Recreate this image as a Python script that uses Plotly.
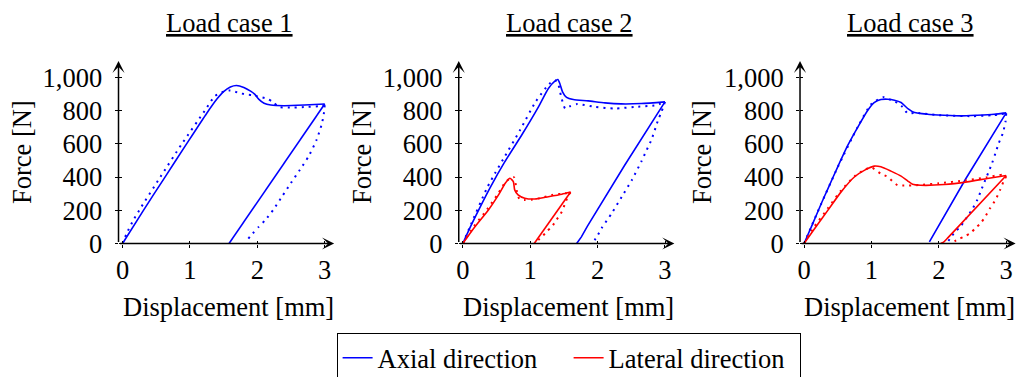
import plotly.graph_objects as go

FONT = "Liberation Serif"
BLUE = "#0000ff"
RED = "#ff0000"

# ---------------- data (displacement [mm], force [N]) ----------------
# Load case 1 - axial
lc1_ax_sim_load_x = [0, 0.31, 0.63, 0.95, 1.25, 1.4, 1.5, 1.6, 1.69, 1.8, 1.9, 1.96, 2.02, 2.1, 2.2, 2.4, 2.7, 3.0]
lc1_ax_sim_load_y = [0, 200, 400, 600, 785, 870, 915, 943, 952, 940, 918, 900, 870, 845, 834, 830, 834, 840]
lc1_ax_sim_unload_x = [3.0, 2.3, 1.58]
lc1_ax_sim_unload_y = [840, 425, 0]
lc1_ax_exp_load_x = [0, 0.06, 0.16, 0.27, 0.56, 0.88, 1.22, 1.37, 1.5, 1.6, 1.72, 1.83, 1.92, 2.03, 2.14, 2.23, 2.32, 2.53, 2.73, 2.92, 3.0]
lc1_ax_exp_load_y = [0, 60, 140, 215, 400, 600, 800, 888, 915, 922, 908, 898, 894, 884, 873, 853, 823, 819, 823, 827, 833]
lc1_ax_exp_unload_x = [3.0, 2.99, 2.96, 2.88, 2.76, 2.63, 2.5, 2.37, 2.24, 2.12, 2.02, 1.93, 1.86, 1.83]
lc1_ax_exp_unload_y = [833, 790, 725, 625, 524, 443, 365, 285, 205, 142, 100, 60, 25, 5]

# Load case 2 - axial
lc2_ax_sim_load_x = [0, 0.13, 0.27, 0.41, 0.62, 0.877, 1.123, 1.27, 1.37, 1.41, 1.44, 1.48, 1.54, 1.64, 1.86, 2.11, 2.35, 2.65, 3.0]
lc2_ax_sim_load_y = [0, 115, 230, 340, 490, 655, 823, 934, 980, 988, 964, 914, 880, 867, 859, 847, 841, 843, 853]
lc2_ax_sim_unload_x = [3.0, 2.4, 1.85, 1.76, 1.69]
lc2_ax_sim_unload_y = [853, 470, 105, 40, 0]
lc2_ax_exp_load_x = [0, 0.1, 0.36, 0.48, 0.6, 0.85, 1.08, 1.28, 1.37, 1.42, 1.46, 1.52, 1.59, 1.7, 1.96, 2.26, 2.55, 2.87, 3.0]
lc2_ax_exp_load_y = [0, 95, 335, 424, 508, 683, 853, 960, 984, 954, 884, 813, 827, 840, 823, 813, 823, 833, 853]
lc2_ax_exp_unload_x = [3.0, 2.95, 2.90, 2.80, 2.73, 2.65, 2.51, 2.36, 2.21, 2.06, 1.99, 1.93]
lc2_ax_exp_unload_y = [853, 795, 745, 625, 564, 494, 383, 282, 182, 92, 41, 5]

# Load case 2 - lateral
lc2_lat_sim_load_x = [0, 0.18, 0.38, 0.53, 0.63, 0.70, 0.75, 0.77, 0.82, 0.92, 1.07, 1.27, 1.47, 1.6]
lc2_lat_sim_load_y = [0, 101, 202, 293, 363, 393, 373, 323, 293, 273, 268, 282, 297, 310]
lc2_lat_sim_unload_x = [1.6, 1.06]
lc2_lat_sim_unload_y = [310, 0]
lc2_lat_exp_load_x = [0, 0.16, 0.36, 0.52, 0.63, 0.71, 0.76, 0.80, 0.84, 0.92, 1.02, 1.17, 1.32, 1.47, 1.6]
lc2_lat_exp_load_y = [0, 100, 205, 298, 368, 395, 399, 320, 268, 262, 264, 275, 292, 300, 305]
lc2_lat_exp_unload_x = [1.6, 1.57, 1.52, 1.47, 1.39, 1.32, 1.24, 1.18, 1.12, 1.09]
lc2_lat_exp_unload_y = [305, 293, 243, 192, 142, 101, 71, 41, 21, 5]

# Load case 3 - axial
lc3_ax_sim_load_x = [0, 0.108, 0.256, 0.355, 0.50, 0.65, 0.80, 0.946, 1.04, 1.14, 1.24, 1.34, 1.44, 1.54, 1.64, 1.83, 2.08, 2.33, 2.57, 2.82, 3.0]
lc3_ax_sim_load_y = [0, 100, 241, 331, 462, 592, 703, 803, 849, 867, 869, 863, 849, 813, 789, 779, 773, 769, 773, 779, 787]
lc3_ax_sim_unload_x = [3.0, 2.4, 1.86]
lc3_ax_sim_unload_y = [787, 390, 10]
lc3_ax_exp_load_x = [0, 0.1, 0.25, 0.5, 0.8, 1.0, 1.19, 1.29, 1.39, 1.46, 1.54, 1.64, 2.0, 2.5, 2.8, 3.0]
lc3_ax_exp_load_y = [0, 95, 235, 460, 705, 840, 883, 863, 847, 823, 783, 787, 773, 767, 773, 783]
lc3_ax_exp_unload_x = [3.0, 2.99, 2.95, 2.89, 2.84, 2.79, 2.64, 2.57, 2.49, 2.39, 2.32, 2.24, 2.17, 2.12]
lc3_ax_exp_unload_y = [783, 735, 665, 605, 544, 484, 333, 262, 202, 142, 101, 71, 31, 5]

# Load case 3 - lateral
lc3_lat_sim_load_x = [0, 0.158, 0.355, 0.55, 0.75, 0.9, 1.04, 1.14, 1.29, 1.44, 1.54, 1.61, 1.73, 2.08, 2.42, 2.72, 3.0]
lc3_lat_sim_load_y = [0, 90, 201, 311, 402, 442, 466, 462, 436, 406, 376, 357, 351, 355, 371, 392, 410]
lc3_lat_sim_unload_x = [3.0, 2.14, 2.07, 2.03]
lc3_lat_sim_unload_y = [410, 37, 8, 2]
lc3_lat_exp_load_x = [0, 0.15, 0.35, 0.55, 0.75, 0.9, 1.0, 1.14, 1.24, 1.31, 1.39, 1.49, 1.7, 2.0, 2.4, 2.7, 2.95, 3.0]
lc3_lat_exp_load_y = [0, 100, 210, 320, 405, 445, 458, 420, 402, 376, 351, 349, 352, 363, 380, 398, 415, 410]
lc3_lat_exp_unload_x = [3.0, 2.96, 2.91, 2.84, 2.76, 2.69, 2.62, 2.54, 2.47, 2.39, 2.29, 2.19]
lc3_lat_exp_unload_y = [405, 373, 323, 262, 212, 162, 122, 92, 62, 45, 25, 5]

panel_titles = ["Load case 1", "Load case 2", "Load case 3"]
x_ticks = [0, 1, 2, 3]
y_ticks = [0, 200, 400, 600, 800, 1000]
y_tick_text = ["0", "200", "400", "600", "800", "1,000"]
series_names = ["Axial direction", "Lateral direction"]

# (x, y, color, dotted, smooth, legend_name)
panels = [
    [
        (lc1_ax_sim_load_x, lc1_ax_sim_load_y, BLUE, False, True, series_names[0]),
        (lc1_ax_sim_unload_x, lc1_ax_sim_unload_y, BLUE, False, False, None),
        (lc1_ax_exp_load_x, lc1_ax_exp_load_y, BLUE, True, True, None),
        (lc1_ax_exp_unload_x, lc1_ax_exp_unload_y, BLUE, True, True, None),
    ],
    [
        (lc2_ax_sim_load_x, lc2_ax_sim_load_y, BLUE, False, True, None),
        (lc2_ax_sim_unload_x, lc2_ax_sim_unload_y, BLUE, False, False, None),
        (lc2_ax_exp_load_x, lc2_ax_exp_load_y, BLUE, True, True, None),
        (lc2_ax_exp_unload_x, lc2_ax_exp_unload_y, BLUE, True, True, None),
        (lc2_lat_sim_load_x, lc2_lat_sim_load_y, RED, False, True, series_names[1]),
        (lc2_lat_sim_unload_x, lc2_lat_sim_unload_y, RED, False, False, None),
        (lc2_lat_exp_load_x, lc2_lat_exp_load_y, RED, True, True, None),
        (lc2_lat_exp_unload_x, lc2_lat_exp_unload_y, RED, True, True, None),
    ],
    [
        (lc3_ax_sim_load_x, lc3_ax_sim_load_y, BLUE, False, True, None),
        (lc3_ax_sim_unload_x, lc3_ax_sim_unload_y, BLUE, False, False, None),
        (lc3_ax_exp_load_x, lc3_ax_exp_load_y, BLUE, True, True, None),
        (lc3_ax_exp_unload_x, lc3_ax_exp_unload_y, BLUE, True, True, None),
        (lc3_lat_sim_load_x, lc3_lat_sim_load_y, RED, False, True, None),
        (lc3_lat_sim_unload_x, lc3_lat_sim_unload_y, RED, False, True, None),
        (lc3_lat_exp_load_x, lc3_lat_exp_load_y, RED, True, True, None),
        (lc3_lat_exp_unload_x, lc3_lat_exp_unload_y, RED, True, True, None),
    ],
]

# ---------------- layout geometry ----------------
W, H = 1019, 377
X_RANGE = [-0.06, 3.14]
Y_RANGE = [0, 1100]
X_DOMAINS = [[0.1163, 0.3279], [0.4502, 0.6618], [0.7851, 0.9967]]
Y_DOMAIN = [0.3541, 0.8385]
YTITLE_X = [22 / W, 362 / W, 702 / W]
FS = 26.5

fig = go.Figure()
annotations = []
layout_axes = {}

for k, curves in enumerate(panels, start=1):
    sfx = "" if k == 1 else str(k)
    xa, ya = "x" + sfx, "y" + sfx
    for xs, ys, color, dotted, smooth, name in curves:
        fig.add_trace(go.Scatter(
            x=xs, y=ys, mode="lines", xaxis=xa, yaxis=ya,
            line=dict(color=color, width=2.0 if dotted else 1.6,
                      dash="2px,5px" if dotted else "solid",
                      shape="spline" if smooth else "linear",
                      smoothing=0.6),
            name=name if name else "",
            showlegend=name is not None,
            hoverinfo="skip",
        ))
    tickfont = dict(family=FONT, size=FS, color="black")
    layout_axes["xaxis" + sfx] = dict(
        domain=X_DOMAINS[k - 1], range=X_RANGE, anchor=ya,
        tickmode="array", tickvals=x_ticks, ticktext=[str(v) for v in x_ticks],
        ticks="outside", ticklen=3, tickwidth=1, tickcolor="black",
        minor=dict(tickmode="array", tickvals=[v + 0.001 for v in x_ticks],
                   ticks="inside", ticklen=3, tickwidth=1, tickcolor="black", showgrid=False),
        showline=False, showgrid=False, zeroline=False, automargin=False,
        tickfont=tickfont, ticklabelstandoff=0, fixedrange=True,
    )
    layout_axes["yaxis" + sfx] = dict(
        domain=Y_DOMAIN, range=Y_RANGE, anchor=xa,
        tickmode="array", tickvals=y_ticks, ticktext=y_tick_text,
        ticks="outside", ticklen=3, tickwidth=1, tickcolor="black",
        minor=dict(tickmode="array", tickvals=[v + 0.3 for v in y_ticks],
                   ticks="inside", ticklen=3, tickwidth=1, tickcolor="black", showgrid=False),
        showline=False, showgrid=False, zeroline=False, automargin=False,
        tickfont=tickfont, ticklabelstandoff=7, fixedrange=True,
    )
    # axis lines with arrow heads
    annotations.append(dict(x=X_RANGE[1], y=0, ax=X_RANGE[0], ay=0,
                            xref=xa, yref=ya, axref=xa, ayref=ya, text="",
                            showarrow=True, arrowhead=3, arrowsize=1.35,
                            arrowwidth=1.5, arrowcolor="black", standoff=0))
    annotations.append(dict(x=X_RANGE[0], y=Y_RANGE[1], ax=X_RANGE[0], ay=0,
                            xref=xa, yref=ya, axref=xa, ayref=ya, text="",
                            showarrow=True, arrowhead=3, arrowsize=1.35,
                            arrowwidth=1.5, arrowcolor="black", standoff=0))
    # titles
    annotations.append(dict(text="<u>" + panel_titles[k - 1] + "</u>",
                            x=1.58, xref=xa, y=(H - 23) / H, yref="paper",
                            xanchor="center", yanchor="middle", showarrow=False,
                            font=dict(family=FONT, size=FS, color="black")))
    annotations.append(dict(text="Displacement [mm]",
                            x=1.57, xref=xa, y=(H - 307) / H, yref="paper",
                            xanchor="center", yanchor="middle", showarrow=False,
                            font=dict(family=FONT, size=FS, color="black")))
    annotations.append(dict(text="Force [N]", textangle=-90,
                            x=YTITLE_X[k - 1], xref="paper", y=(H - 152) / H, yref="paper",
                            xanchor="center", yanchor="middle", showarrow=False,
                            font=dict(family=FONT, size=FS, color="black")))

fig.update_layout(
    width=W, height=H,
    margin=dict(l=0, r=0, t=0, b=0, pad=0, autoexpand=False),
    paper_bgcolor="white", plot_bgcolor="white",
    font=dict(family=FONT, size=FS, color="black"),
    annotations=annotations,
    legend=dict(orientation="h", x=0.558, xanchor="center", y=(H - 333) / H, yanchor="top",
                bordercolor="black", borderwidth=1, bgcolor="white",
                font=dict(family=FONT, size=FS, color="black"),
                entrywidth=186, entrywidthmode="pixels", tracegroupgap=0),
    **layout_axes,
)

fig.write_html("out.html", config={"displayModeBar": False, "staticPlot": True},
               post_script="document.body.style.margin='0px';")
